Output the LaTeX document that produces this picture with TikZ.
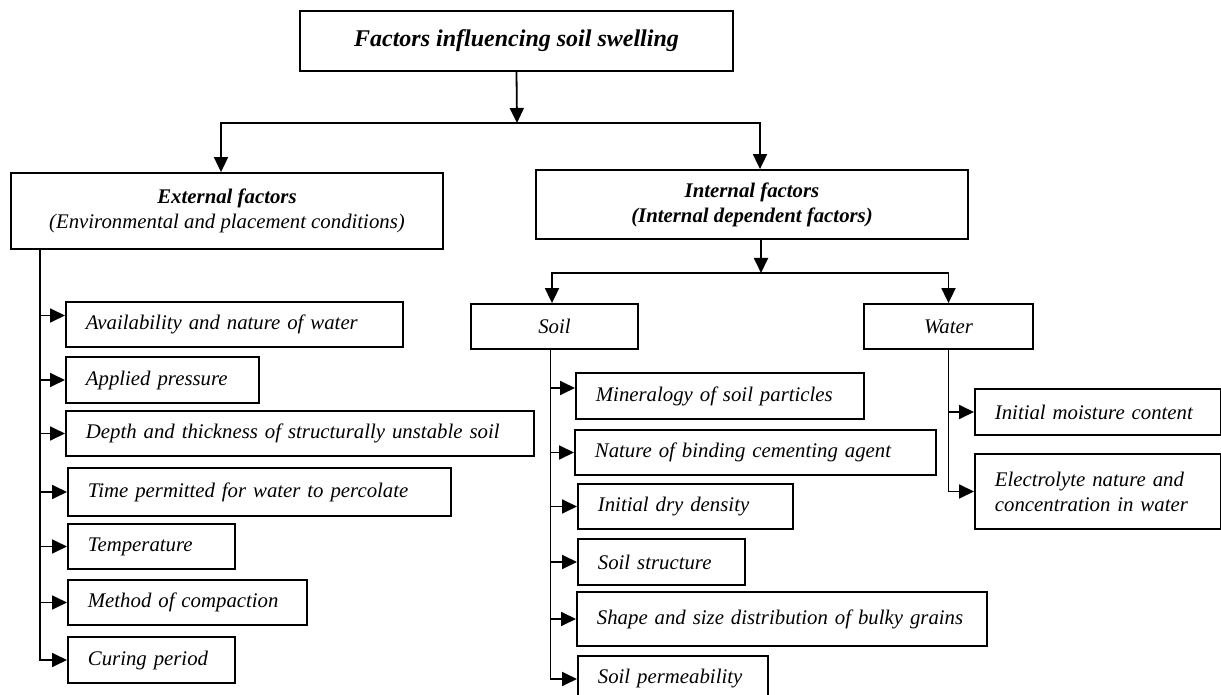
\documentclass[tikz,border=0pt]{standalone}
\usepackage{fontspec}
\setmainfont{Liberation Serif}
\usetikzlibrary{arrows.meta}

\tikzset{
  arr/.style={-{Triangle[length=7.5pt,width=7pt]}},
  headbox/.style={draw, align=center, font=\fontsize{10.4}{12.5}\selectfont\itshape},
  item/.style={draw, anchor=west, align=left, inner xsep=10pt, inner ysep=0pt,
    text width=#1, font=\fontsize{10.4}{12.5}\selectfont\itshape},
}

\begin{document}
\begin{tikzpicture}[x=0.5pt, y=-0.5pt, line width=0.9pt]
  \useasboundingbox (0,0) rectangle (1221,695);

  \node[headbox, minimum width=216.5pt, minimum height=30pt,
        font=\fontsize{12}{14}\selectfont\bfseries\itshape] (top) at (516.5,41)
        {Factors influencing soil swelling};
  \node[headbox, minimum width=216pt, minimum height=38pt] (ext) at (227,211)
        {\textbf{External factors}\\(Environmental and placement conditions)};
  \node[headbox, minimum width=216pt, minimum height=34.5pt, font=\fontsize{10.4}{12.5}\selectfont\bfseries\itshape] (int) at (752,204.5)
        {Internal factors\\(Internal dependent factors)};
  \node[headbox, minimum width=83.5pt, minimum height=22.5pt] (soil) at (554.5,326.5) {Soil};
  \node[headbox, minimum width=84.5pt, minimum height=22.5pt] (water) at (948.5,326.5) {Water};

  % external factors
  \node[item=148.5pt, minimum height=22.5pt] (e1) at (65,324.5) {Availability and nature of water};
  \node[item=76.5pt, minimum height=23pt] (e2) at (65,380) {Applied pressure};
  \node[item=214pt, minimum height=22.5pt] (e3) at (65,433.5) {Depth and thickness of structurally unstable soil};
  \node[item=171.5pt, minimum height=24pt] (e4) at (67,492) {Time permitted for water to percolate};
  \node[item=63.5pt, minimum height=22.5pt] (e5) at (67,546.5) {Temperature};
  \node[item=99.5pt, minimum height=22.5pt] (e6) at (67,602.5) {Method of compaction};
  \node[item=63.5pt, minimum height=23pt] (e7) at (67,660) {Curing period};

  % soil
  \node[item=124pt, minimum height=23pt] (s1) at (575,396) {Mineralogy of soil particles};
  \node[item=160.5pt, minimum height=22.5pt] (s2) at (574,452.5) {Nature of binding cementing agent};
  \node[item=87.5pt, minimum height=22.5pt] (s3) at (577,506.5) {Initial dry density};
  \node[item=63.5pt, minimum height=23pt] (s4) at (577,562) {Soil structure};
  \node[item=185pt, minimum height=27pt] (s5) at (576,619) {\mbox{Shape and size distribution of bulky grains}};
  \node[item=75pt, minimum height=23pt] (s6) at (577,679) {Soil permeability};

  % water
  \node[item=103pt, minimum height=23pt] (w1) at (974,412) {\mbox{Initial moisture content}};
  \node[item=103pt, minimum height=37.5pt] (w2) at (974,491.5) {Electrolyte nature and\\concentration in water};

  \coordinate (j1) at (517,123);
  \coordinate (j2) at (761,273);
  \coordinate (et) at ([xshift=15pt]ext.south west);
  \coordinate (st) at ([xshift=-2pt]soil.south);

  \draw[arr] (top.south) -- (j1);
  \draw[arr] (j1) -| ([xshift=-3pt]ext.north);
  \draw[arr] (j1) -| ([xshift=4pt]int.north);
  \draw[arr] ([xshift=4.5pt]int.south) -- (j2);
  \draw[arr] (j2) -| ([xshift=-1.25pt]soil.north);
  \draw[arr] (j2) -| (water.north);

  \draw[arr] ([yshift=4.5pt]et |- e1.west) -- ([yshift=4.5pt]e1.west);
  \draw[arr] (et |- e2.west) -- (e2.west);
  \draw[arr] (et |- e3.west) -- (e3.west);
  \draw[arr] (et |- e4.west) -- (e4.west);
  \draw[arr] (et |- e5.west) -- (e5.west);
  \draw[arr] (et |- e6.west) -- (e6.west);
  \draw[arr] (et) |- (e7.west);

  \draw[arr] ([yshift=4pt]st |- s1.west) -- ([yshift=4pt]s1.west);
  \draw[arr] (st |- s2.west) -- (s2.west);
  \draw[arr] (st |- s3.west) -- (s3.west);
  \draw[arr] (st |- s4.west) -- (s4.west);
  \draw[arr] (st |- s5.west) -- (s5.west);
  \draw[arr] (st) |- (s6.west);

  \draw[arr] (water.south |- w1.west) -- (w1.west);
  \draw[arr] (water.south) |- (w2.west);
\end{tikzpicture}
\end{document}
